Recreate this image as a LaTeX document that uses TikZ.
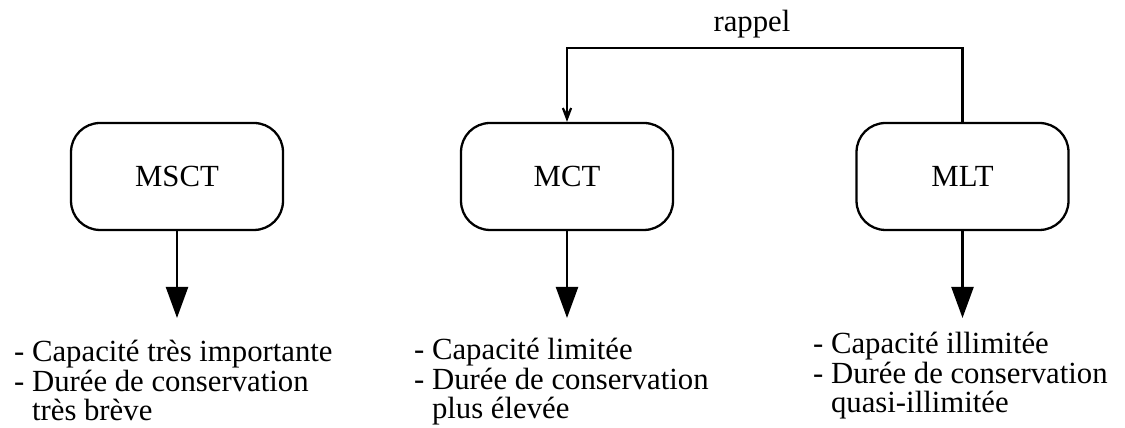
\documentclass[tikz,border=0pt]{standalone}
\usepackage{fontspec}
\setmainfont{Liberation Serif}
\newfontfamily\texte{Liberation Serif}
\usetikzlibrary{arrows.meta}

\begin{document}
\begin{tikzpicture}[x=0.02cm, y=0.02cm, line width=1.3pt,
        memoire/.style={draw, rounded corners=0.58cm, minimum width=4.24cm, minimum height=2.14cm, font=\texte\fontsize{17.5}{20}\selectfont},
        liste/.style={anchor=north west, align=left, inner sep=0pt, font=\texte\fontsize{17.5}{16.8}\selectfont},
        sortie/.style={-{Triangle[length=0.62cm,width=0.44cm]}},
        retour/.style={-{Stealth[length=0.58cm,width=0.44cm,inset=0.42cm]}}]
        \useasboundingbox (0,0) rectangle (1125,428);

        % Memory boxes
        \node[memoire] (msct) at (177,251.5) {MSCT};
        \node[memoire] (mct) at (567,251.5) {MCT};
        \node[memoire] (mlt) at (962.5,251.5) {MLT};

        % Arrow ends below the boxes
        \coordinate (msct-bas) at (177,110);
        \coordinate (mct-bas) at (567,110);
        \coordinate (mlt-bas) at (962.5,110);
        \draw[sortie] (msct) -- (msct-bas);
        \draw[sortie] (mct) -- (mct-bas);
        \draw[sortie] (mlt) -- (mlt-bas);

        % Recall loop MLT -> MCT
        \node[anchor=base, inner sep=0pt, font=\texte\fontsize{17.5}{20}\selectfont] (rappel) at (752,396) {rappel};
        \draw[retour] (mlt.north) -- ++(0,74) -| (mct.north);

        % Properties
        \node[liste] (msct-txt) at (13,89) {- Capacité très importante\\- Durée de conservation\\\hphantom{- }très brève};
        \node[liste] (mct-txt) at (413,91) {- Capacité limitée\\- Durée de conservation\\\hphantom{- }plus élevée};
        \node[liste] (mlt-txt) at (812,97) {- Capacité illimitée\\- Durée de conservation\\\hphantom{- }quasi-illimitée};
    \end{tikzpicture}
\end{document}
